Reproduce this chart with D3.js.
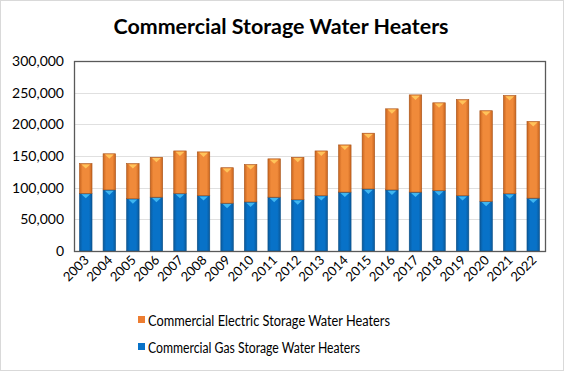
<!DOCTYPE html>
<html>
<head>
<meta charset="utf-8">
<script src="https://cdn.jsdelivr.net/npm/d3@7"></script>
<style>
  body { margin: 0; background: #fff; }
  svg text { font-family: Lato, "Open Sans", sans-serif; fill: #000; }
</style>
</head>
<body>
<svg id="chart" width="564" height="371"></svg>
<script>
// Chart values
const years = ["2003","2004","2005","2006","2007","2008","2009","2010","2011","2012",
               "2013","2014","2015","2016","2017","2018","2019","2020","2021","2022"]
const gasUnits = [91000, 96500, 82500, 85000, 91000, 87500, 75500, 77500, 85000, 81000,
                  87500, 93000, 98000, 96500, 93000, 95500, 87500, 78500, 90500, 83500]
const totalUnits = [138000, 153500, 138000, 148000, 158000, 156500, 131500, 136500, 145500, 148000,
                    158000, 167500, 186000, 224500, 246500, 234000, 239000, 221500, 245500, 204500]
const electricUnits = totalUnits.map((t, i) => t - gasUnits[i])
const yTicks = [0, 50000, 100000, 150000, 200000, 250000, 300000]
const seriesNames = ["Commercial Electric Storage Water Heaters", "Commercial Gas Storage Water Heaters"]

const svg = d3.select("#chart")
const W = 564, H = 371
const margin = {left: 74, right: 19, top: 61, bottom: 120}

// Light frame around the whole chart
svg.append("rect").attr("x", 0.5).attr("y", 0.5).attr("width", W - 1).attr("height", H - 1)
  .attr("fill", "#fff").attr("stroke", "#d9d9d9")

// Title
svg.append("text").attr("x", 281).attr("y", 34).attr("text-anchor", "middle")
  .style("font-size", "21px").style("font-weight", "bold")
  .attr("textLength", 335).attr("lengthAdjust", "spacingAndGlyphs")
  .text("Commercial Storage Water Heaters")

const x = d3.scaleBand().domain(years).range([margin.left, W - margin.right]).paddingInner(0.47).paddingOuter(0.235)
const y = d3.scaleLinear().domain([0, 300000]).range([H - margin.bottom, margin.top])

// Gradients for the bevelled bars
const defs = svg.append("defs")
const addGrad = (id, edge, mid) => {
  const g = defs.append("linearGradient").attr("id", id).attr("x1", 0).attr("x2", 1).attr("y1", 0).attr("y2", 0)
  g.append("stop").attr("offset", "0%").attr("stop-color", edge)
  g.append("stop").attr("offset", "25%").attr("stop-color", mid)
  g.append("stop").attr("offset", "75%").attr("stop-color", mid)
  g.append("stop").attr("offset", "100%").attr("stop-color", edge)
}
addGrad("gradBlue", "#0a5a9c", "#0872c8")
addGrad("gradOrange", "#c9651f", "#f08a3a")

// Gridlines
svg.append("g").selectAll("line").data(yTicks.filter(d => d > 0 && d < 300000)).join("line")
  .attr("x1", margin.left).attr("x2", W - margin.right)
  .attr("y1", d => Math.round(y(d)) + 0.5).attr("y2", d => Math.round(y(d)) + 0.5)
  .attr("stroke", "#e0e0e0")

// Y axis labels
svg.append("g").selectAll("text").data(yTicks).join("text")
  .attr("x", 64).attr("y", d => y(d) + 5).attr("text-anchor", "end")
  .style("font-size", "14px")
  .text(d => d3.format(",")(d))

// Bars: gas on the bottom, electric stacked on top
const bw = x.bandwidth()
const drawSeg = (vals, base, fill, tip) => {
  const g = svg.append("g")
  years.forEach((yr, i) => {
    const x0 = x(yr), top = y(base[i] + vals[i]), bot = y(base[i])
    g.append("rect").attr("x", x0).attr("y", top).attr("width", bw).attr("height", bot - top)
      .attr("fill", fill).attr("stroke", tip.edge).attr("stroke-width", 0.6)
    // small light triangle at the top of each segment
    g.append("path")
      .attr("d", `M${x0 + bw * 0.15},${top + 0.8} L${x0 + bw * 0.85},${top + 0.8} L${x0 + bw / 2},${top + 5} Z`)
      .attr("fill", tip.light)
  })
}
drawSeg(gasUnits, years.map(() => 0), "url(#gradBlue)", {edge: "#0b4f86", light: "#3fb6f0"})
drawSeg(electricUnits, gasUnits, "url(#gradOrange)", {edge: "#a85318", light: "#ffc35a"})

// Plot box
svg.append("rect").attr("x", margin.left + 0.5).attr("y", margin.top + 0.5)
  .attr("width", W - margin.right - margin.left).attr("height", H - margin.bottom - margin.top)
  .attr("fill", "none").attr("stroke", "#595959").attr("stroke-width", 1.3)

// X labels, rotated
svg.append("g").selectAll("text").data(years).join("text")
  .attr("transform", d => `translate(${x(d) + bw / 2 + 4},${H - margin.bottom + 10}) rotate(-45)`)
  .attr("text-anchor", "end")
  .style("font-size", "13px")
  .text(d => d)

// Legend
const legend = svg.append("g")
const legendColors = ["#ed7d31", "#0872c8"]
seriesNames.forEach((name, i) => {
  const ly = 326 + i * 27
  legend.append("rect").attr("x", 138).attr("y", ly - 10).attr("width", 7).attr("height", 7)
    .attr("fill", legendColors[i])
  legend.append("text").attr("x", 148).attr("y", ly).style("font-size", "14.5px")
    .attr("textLength", i === 0 ? 242 : 212).attr("lengthAdjust", "spacingAndGlyphs")
    .text(name)
})
</script>
</body>
</html>
